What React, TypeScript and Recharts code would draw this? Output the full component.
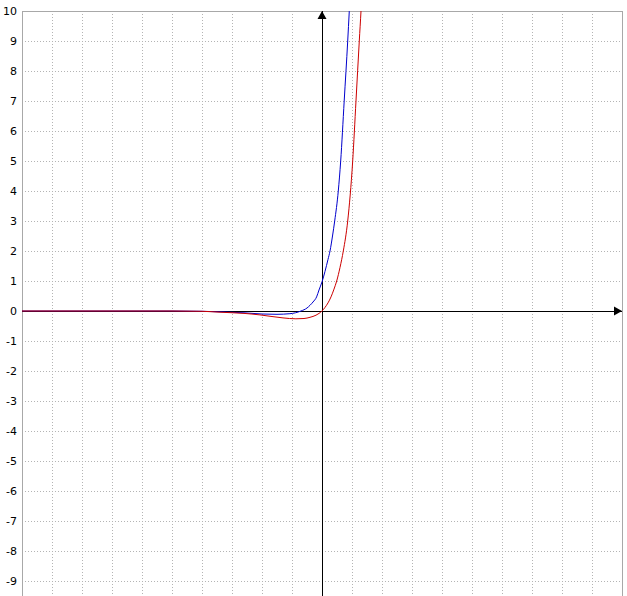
import React from "react";
import {
  LineChart,
  Line,
  XAxis,
  YAxis,
  CartesianGrid,
  ReferenceLine,
  ReferenceDot,
} from "recharts";

// x positions in grid units (one grid cell = 1)
const blueX = [-10, -5, -4, -3.3, -2.6, -2, -1.5, -1.07, -0.7, -0.5, -0.4, -0.3, -0.18, -0.1, 0, 0.1, 0.2, 0.267, 0.35, 0.423, 0.543, 0.623, 0.74, 0.857, 0.96];
const blueY = [0, 0, -0.01, -0.03, -0.06, -0.1, -0.11, -0.09, 0, 0.1, 0.19, 0.3, 0.47, 0.7, 0.97, 1.32, 1.72, 2, 2.5, 3, 4, 5, 7, 9, 11];

const redX = [-10, -5, -4, -3.4, -2.6, -2.07, -1.7, -1.3, -0.87, -0.6, -0.4, -0.2, -0.1, 0, 0.1, 0.2, 0.3, 0.4, 0.49, 0.6, 0.71, 0.857, 1.023, 1.133, 1.243, 1.3, 1.35];
const redY = [0, 0, -0.01, -0.04, -0.08, -0.13, -0.18, -0.23, -0.26, -0.25, -0.21, -0.14, -0.08, 0, 0.12, 0.27, 0.47, 0.73, 1, 1.45, 2, 3, 5, 7, 9, 10, 11];

const xTicks = [-10, -9, -8, -7, -6, -5, -4, -3, -2, -1, 0, 1, 2, 3, 4, 5, 6, 7, 8, 9, 10];
const yTicks = [-9, -8, -7, -6, -5, -4, -3, -2, -1, 0, 1, 2, 3, 4, 5, 6, 7, 8, 9, 10];

const blueData = blueX.map((x, i) => ({ x, y: blueY[i] }));
const redData = redX.map((x, i) => ({ x, y: redY[i] }));

const UpArrow = (props: any) => (
  <polygon
    points={`${props.cx},${props.cy} ${props.cx - 4.5},${props.cy + 8} ${props.cx + 4.5},${props.cy + 8}`}
    fill="#000"
  />
);

const RightArrow = (props: any) => (
  <polygon
    points={`${props.cx},${props.cy} ${props.cx - 8},${props.cy - 4.5} ${props.cx - 8},${props.cy + 4.5}`}
    fill="#000"
  />
);

const NoTick = () => <g />;

export default function App() {
  return (
    <div
      style={{
        position: "absolute",
        top: 0,
        left: 0,
        width: 627,
        height: 596,
        overflow: "hidden",
        background: "#fff",
      }}
    >
      <LineChart
        width={627}
        height={596}
        margin={{ top: 11, right: 5, bottom: 0, left: 0 }}
      >
        <CartesianGrid
          stroke="#b4b4b4"
          strokeDasharray="1 2"
          shapeRendering="crispEdges"
        />
        <XAxis
          type="number"
          dataKey="x"
          domain={[-10, 10]}
          ticks={xTicks}
          interval={0}
          allowDataOverflow
          tick={NoTick}
          axisLine={false}
          tickLine={false}
          height={0}
        />
        <YAxis
          type="number"
          dataKey="y"
          domain={[-9.5, 10]}
          ticks={yTicks}
          allowDataOverflow
          interval={0}
          axisLine={false}
          tickLine={false}
          tickSize={0}
          tickMargin={5}
          width={22}
          tick={{ fill: "#000", fontSize: 11, fontFamily: "DejaVu Sans" }}
        />
        <ReferenceLine x={-10} stroke="#a8a8a8" shapeRendering="crispEdges" />
        <ReferenceLine x={10} stroke="#a8a8a8" shapeRendering="crispEdges" />
        <ReferenceLine y={10} stroke="#a8a8a8" shapeRendering="crispEdges" />
        <ReferenceLine x={0} stroke="#000" shapeRendering="crispEdges" />
        <ReferenceLine y={0} stroke="#000" shapeRendering="crispEdges" />
        <Line
          data={blueData}
          dataKey="y"
          type="monotone"
          stroke="#0000cc"
          strokeWidth={1}
          dot={false}
          isAnimationActive={false}
        />
        <Line
          data={redData}
          dataKey="y"
          type="monotone"
          stroke="#cc0000"
          strokeWidth={1}
          dot={false}
          isAnimationActive={false}
        />
        <ReferenceDot x={0} y={10} r={0} shape={UpArrow} />
        <ReferenceDot x={10} y={0} r={0} shape={RightArrow} />
      </LineChart>
    </div>
  );
}
